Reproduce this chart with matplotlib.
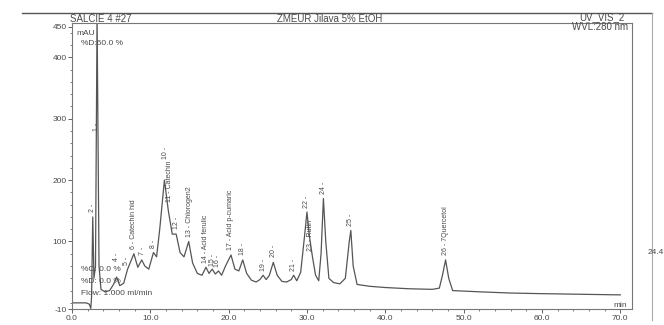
import numpy as np
import matplotlib
matplotlib.use("Agg")
import matplotlib.pyplot as plt
from matplotlib.ticker import MultipleLocator, FixedLocator
from matplotlib.lines import Line2D

plt.rcParams['font.family'] = ['Liberation Sans', 'DejaVu Sans']
plt.rcParams['axes.unicode_minus'] = False

# retention time (min) and absorbance (mAU)
time_min = [0.0, 1.8, 2.2, 2.4, 2.5, 2.65, 2.8, 3.0, 3.2, 3.45, 3.7, 4.2, 4.8, 5.3, 5.7,
            6.1, 6.6, 7.1, 7.9, 8.4, 8.9, 9.3, 9.8, 10.4, 10.8, 11.2, 11.8, 12.3, 12.8,
            13.3, 13.8, 14.3, 14.9, 15.4, 16.0, 16.6, 17.1, 17.5, 17.9, 18.3, 18.7, 19.1,
            19.6, 20.3, 20.8, 21.3, 21.8, 22.3, 22.9, 23.5, 24.0, 24.4, 24.8, 25.2, 25.7,
            26.2, 26.8, 27.4, 28.0, 28.3, 28.7, 29.2, 29.7, 30.0, 30.3, 30.7, 31.1, 31.5,
            31.8, 32.1, 32.4, 32.8, 33.4, 34.2, 34.9, 35.4, 35.6, 35.9, 36.4, 38.0, 40.0,
            43.0, 46.0, 46.9, 47.3, 47.7, 48.1, 48.6, 52.0, 56.0, 60.0, 65.0, 70.0]
signal_mau = [0, 0, -2, -9, 10, 140, 40, 60, 470, 60, 22, 18, 20, 30, 42,
              28, 32, 55, 80, 58, 70, 60, 55, 82, 75, 120, 200, 150, 112,
              112, 82, 75, 100, 65, 48, 45, 58, 48, 55, 47, 52, 45,
              60, 78, 55, 52, 70, 48, 37, 34, 38, 45, 38, 45, 66,
              45, 35, 34, 38, 45, 36, 50, 110, 148, 110, 75, 45, 36,
              80, 170, 100, 40, 33, 31, 40, 100, 118, 60, 30, 27, 25,
              23, 22, 24, 45, 70, 40, 20, 18, 16, 15, 14, 13]

# peak annotations: time, label height, text
label_t = [2.6, 3.1, 5.7, 7.0, 7.9, 9.0, 10.4, 11.9, 12.5, 13.3, 15.0, 17.1, 17.9, 18.6,
           20.3, 21.8, 24.4, 25.7, 28.3, 30.0, 30.5, 32.1, 35.6, 47.7]
label_y = [148, 280, 68, 62, 88, 78, 90, 235, 165, 120, 108, 65, 60, 58,
           86, 78, 52, 75, 52, 155, 85, 178, 126, 78]
label_txt = ["2 -", "1 -", "4 -", "5 -", "6 - Catechin hid", "7 -", "8 -", "10 -",
             "11 - Catechin", "12 -", "13 - Chlorogen2", "14 - Acid ferulic", "15 -", "16 -",
             "17 - Acid p-cumaric", "18 -", "19 -", "20 -", "21 -", "22 -", "23 - Rutin",
             "24 -", "25 -", "26 - 7Quercetol"]

ink = '#4a4a4a'
fig = plt.figure(figsize=(6.64, 3.25), dpi=100)
ax = fig.add_axes([72/664, 1-309/325, 560/664, 286/325])

ax.plot(time_min, signal_mau, color='#555555', lw=0.9)
for t, y, s in zip(label_t, label_y, label_txt):
    ax.text(t, y, s, rotation=90, ha='center', va='bottom', fontsize=5, color=ink)

ax.set_xlim(0, 71.5)
ax.set_ylim(-10, 456)
ax.xaxis.set_major_locator(FixedLocator([0, 10, 20, 30, 40, 50, 60, 70]))
ax.xaxis.set_minor_locator(MultipleLocator(2))
ax.set_xticklabels(['0.0', '10.0', '20.0', '30.0', '40.0', '50.0', '60.0', '70.0'])
ax.yaxis.set_major_locator(FixedLocator([-10, 100, 200, 300, 400, 450]))
ax.yaxis.set_minor_locator(MultipleLocator(20))
ax.tick_params(labelsize=6, colors=ink, length=3, width=0.6, pad=1)
ax.tick_params(which='minor', length=1.5, width=0.5, colors=ink)
for sp in ax.spines.values():
    sp.set_color('#777777')
    sp.set_linewidth(0.8)

ax.text(0.6, 436, 'mAU', fontsize=6, color=ink)
ax.text(1.2, 420, '%D:60.0 %', fontsize=6, color=ink)
ax.text(1.2, 52, '%C: 0.0 %', fontsize=6, color=ink)
ax.text(1.2, 33, '%D: 0.0 %', fontsize=6, color=ink)
ax.text(1.2, 13, 'Flow: 1.000 ml/min', fontsize=6, color=ink)
ax.text(70.8, -6, 'min', fontsize=6, color=ink, ha='right')

fig.text(70/664, 1-19/325, 'SALCIE 4 #27', fontsize=7, color=ink, va='center')
fig.text(330/664, 1-19/325, 'ZMEUR Jilava 5% EtOH', fontsize=7, color=ink, va='center', ha='center')
fig.text(625/664, 1-17/325, 'UV_VIS_2', fontsize=7, color=ink, va='center', ha='right')
fig.text(628/664, 1-27/325, 'WVL:280 nm', fontsize=7, color=ink, va='center', ha='right')
fig.text(648/664, 1-252/325, '24.4', fontsize=6, color=ink, va='center')

fig.add_artist(Line2D([22/664, 652/664], [1-13/325, 1-13/325], color='#555555', lw=1.0))
fig.add_artist(Line2D([652/664, 652/664], [1-13/325, 1-320/325], color='#aaaaaa', lw=0.8))

fig.savefig('out.png', dpi=100)
